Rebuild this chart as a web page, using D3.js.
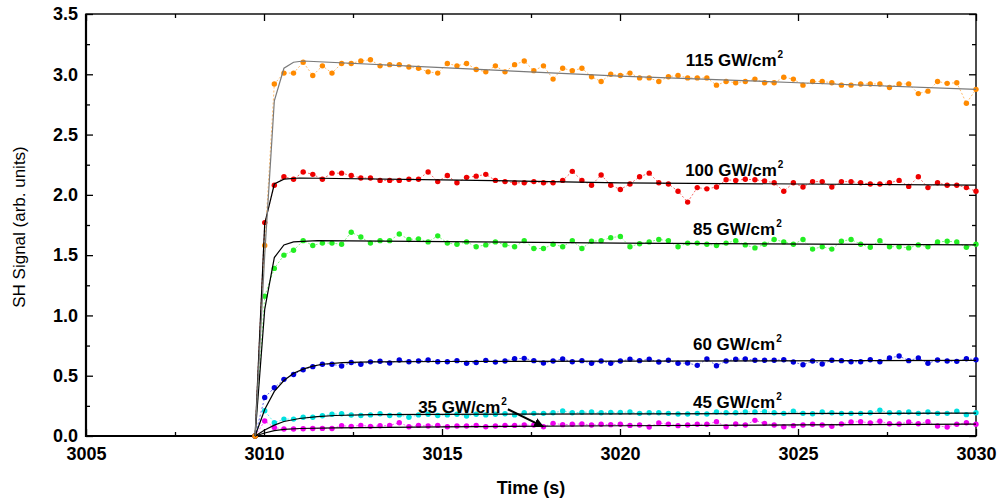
<!DOCTYPE html>
<html>
<head>
<meta charset="utf-8">
<script src="https://cdn.jsdelivr.net/npm/d3@7"></script>
<style>
  html, body { margin: 0; padding: 0; background: #fff; }
  svg { display: block; font-family: "Liberation Sans", Arial, sans-serif; }
</style>
</head>
<body>
<svg id="chart" width="999" height="500"></svg>
<script>
// Sampling times (s)
const times = [3009.75, 3010.02, 3010.29, 3010.56, 3010.83, 3011.10, 3011.37, 3011.64, 3011.91, 3012.18,
  3012.45, 3012.72, 3012.99, 3013.26, 3013.53, 3013.80, 3014.07, 3014.34, 3014.61, 3014.88,
  3015.15, 3015.42, 3015.69, 3015.96, 3016.23, 3016.50, 3016.77, 3017.04, 3017.31, 3017.58,
  3017.85, 3018.12, 3018.39, 3018.66, 3018.93, 3019.20, 3019.47, 3019.74, 3020.01, 3020.28,
  3020.55, 3020.82, 3021.09, 3021.36, 3021.63, 3021.90, 3022.17, 3022.44, 3022.71, 3022.98,
  3023.25, 3023.52, 3023.79, 3024.06, 3024.33, 3024.60, 3024.87, 3025.14, 3025.41, 3025.68,
  3025.95, 3026.22, 3026.49, 3026.76, 3027.03, 3027.30, 3027.57, 3027.84, 3028.11, 3028.38,
  3028.65, 3028.92, 3029.19, 3029.46, 3029.73, 3030.00];

// Measured SH signal for each intensity
const sig115 = [0, 1.58, 2.92, 3.01, 3.01, 3.10, 2.99, 3.07, 3.01, 3.09,
  3.09, 3.11, 3.12, 3.07, 3.08, 3.08, 3.06, 3.05, 3.02, 3.01,
  3.09, 3.07, 3.09, 3.04, 3.02, 3.07, 3.02, 3.08, 3.11, 3.03,
  3.07, 2.96, 3.05, 3.03, 3.05, 2.98, 2.94, 3.00, 2.99, 3.01,
  2.97, 2.97, 2.94, 2.98, 2.99, 2.97, 2.97, 2.97, 2.91, 2.94,
  2.93, 2.94, 2.96, 2.93, 2.93, 2.975, 2.96, 2.91, 2.94, 2.94,
  2.93, 2.91, 2.91, 2.92, 2.92, 2.92, 2.89, 2.92, 2.92, 2.84,
  2.86, 2.94, 2.925, 2.93, 2.76, 2.875];
const sig100 = [0, 1.77, 2.08, 2.15, 2.13, 2.19, 2.17, 2.13, 2.18, 2.18,
  2.16, 2.14, 2.14, 2.12, 2.12, 2.12, 2.13, 2.13, 2.19, 2.11,
  2.16, 2.10, 2.145, 2.155, 2.17, 2.12, 2.11, 2.10, 2.10, 2.11,
  2.10, 2.10, 2.12, 2.195, 2.12, 2.08, 2.165, 2.08, 2.045, 2.09,
  2.15, 2.18, 2.10, 2.09, 2.03, 1.94, 2.06, 2.05, 2.065, 2.125,
  2.12, 2.13, 2.125, 2.115, 2.10, 2.03, 2.10, 2.065, 2.11, 2.11,
  2.065, 2.11, 2.11, 2.10, 2.09, 2.09, 2.10, 2.12, 2.07, 2.15,
  2.06, 2.10, 2.08, 2.08, 2.06, 2.03];
const sig85 = [0, 1.16, 1.39, 1.50, 1.54, 1.62, 1.58, 1.60, 1.60, 1.59,
  1.69, 1.65, 1.60, 1.62, 1.62, 1.675, 1.63, 1.635, 1.61, 1.66,
  1.60, 1.59, 1.61, 1.57, 1.585, 1.61, 1.585, 1.57, 1.62, 1.555,
  1.555, 1.59, 1.57, 1.62, 1.555, 1.615, 1.62, 1.645, 1.655, 1.57,
  1.595, 1.61, 1.63, 1.62, 1.57, 1.60, 1.60, 1.59, 1.58, 1.60,
  1.62, 1.585, 1.56, 1.59, 1.63, 1.61, 1.59, 1.63, 1.55, 1.57,
  1.55, 1.615, 1.63, 1.59, 1.565, 1.62, 1.57, 1.57, 1.56, 1.585,
  1.57, 1.61, 1.615, 1.61, 1.565, 1.59];
const sig60 = [0, 0.32, 0.40, 0.47, 0.51, 0.55, 0.575, 0.595, 0.595, 0.58,
  0.61, 0.595, 0.615, 0.62, 0.605, 0.63, 0.616, 0.622, 0.63, 0.616,
  0.616, 0.625, 0.603, 0.61, 0.627, 0.613, 0.622, 0.641, 0.644, 0.625,
  0.605, 0.622, 0.639, 0.616, 0.625, 0.603, 0.622, 0.603, 0.622, 0.636,
  0.625, 0.636, 0.614, 0.628, 0.603, 0.605, 0.586, 0.639, 0.583, 0.622,
  0.636, 0.639, 0.628, 0.628, 0.628, 0.633, 0.614, 0.591, 0.622, 0.597,
  0.628, 0.625, 0.616, 0.616, 0.633, 0.616, 0.647, 0.663, 0.625, 0.647,
  0.603, 0.63, 0.622, 0.619, 0.641, 0.633];
const sig45 = [0, 0.21, 0.11, 0.14, 0.14, 0.155, 0.155, 0.168, 0.18, 0.185,
  0.174, 0.17, 0.175, 0.185, 0.17, 0.175, 0.155, 0.175, 0.18, 0.17,
  0.175, 0.18, 0.166, 0.18, 0.175, 0.18, 0.185, 0.175, 0.193, 0.188,
  0.188, 0.193, 0.207, 0.193, 0.196, 0.199, 0.193, 0.196, 0.196, 0.199,
  0.188, 0.193, 0.193, 0.188, 0.182, 0.182, 0.188, 0.182, 0.199, 0.193,
  0.193, 0.199, 0.199, 0.202, 0.193, 0.188, 0.205, 0.188, 0.185, 0.199,
  0.193, 0.188, 0.188, 0.188, 0.193, 0.213, 0.193, 0.193, 0.199, 0.188,
  0.199, 0.188, 0.188, 0.205, 0.177, 0.193];
const sig35 = [0, 0.125, 0.07, 0.058, 0.058, 0.06, 0.062, 0.063, 0.062, 0.085,
  0.08, 0.088, 0.08, 0.085, 0.088, 0.11, 0.077, 0.088, 0.083, 0.088,
  0.077, 0.083, 0.083, 0.088, 0.077, 0.083, 0.088, 0.088, 0.091, 0.091,
  0.077, 0.105, 0.094, 0.097, 0.10, 0.091, 0.097, 0.094, 0.097, 0.088,
  0.091, 0.075, 0.108, 0.097, 0.086, 0.091, 0.097, 0.097, 0.119, 0.077,
  0.10, 0.091, 0.13, 0.105, 0.091, 0.077, 0.086, 0.091, 0.097, 0.091,
  0.08, 0.10, 0.116, 0.119, 0.108, 0.122, 0.102, 0.10, 0.116, 0.102,
  0.119, 0.083, 0.075, 0.097, 0.11, 0.097];

// Fitted curves, [time, signal] vertices
const fit115 = [[3009.75, 0], [3010.02, 1.5], [3010.29, 2.78], [3010.56, 3.05], [3010.83, 3.10], [3011.10, 3.11],
  [3015, 3.055], [3020, 2.985], [3025, 2.93], [3030, 2.875]];
const fit100 = [[3009.75, 0], [3010.02, 1.76], [3010.29, 2.09], [3010.56, 2.13], [3011, 2.14],
  [3015, 2.125], [3020, 2.10], [3025, 2.09], [3030, 2.08]];
const fit85 = [[3009.75, 0], [3010.02, 1.05], [3010.29, 1.48], [3010.56, 1.585], [3010.83, 1.61], [3011.5, 1.62],
  [3020, 1.60], [3030, 1.585]];
const fit60 = [[3009.75, 0], [3010.02, 0.22], [3010.29, 0.37], [3010.56, 0.46], [3010.83, 0.52], [3011.10, 0.555],
  [3011.37, 0.58], [3011.64, 0.595], [3012.2, 0.608], [3013, 0.615], [3015, 0.618], [3030, 0.627]];
const fit45 = [[3009.75, 0], [3010.02, 0.05], [3010.29, 0.09], [3010.56, 0.12], [3011, 0.145], [3011.5, 0.16],
  [3012, 0.17], [3013, 0.177], [3015, 0.18], [3030, 0.19]];
const fit35 = [[3009.75, 0], [3010.02, 0.025], [3010.29, 0.045], [3010.56, 0.055], [3011, 0.062], [3012, 0.068],
  [3015, 0.076], [3020, 0.085], [3025, 0.092], [3030, 0.098]];

const intensities = ["35", "45", "60", "85", "100", "115"];
const xTicks = [3005, 3010, 3015, 3020, 3025, 3030];
const xMinorTicks = [3007.5, 3012.5, 3017.5, 3022.5, 3027.5];
const yTicks = [0, 0.5, 1.0, 1.5, 2.0, 2.5, 3.0, 3.5];
const yMinorTicks = [0.25, 0.75, 1.25, 1.75, 2.25, 2.75, 3.25];

// Series drawn bottom-up so the strongest signal sits on top
const series = [
  { name: intensities[0], values: sig35,  fit: fit35,  color: "#ee00ee", fitColor: "#000" },
  { name: intensities[1], values: sig45,  fit: fit45,  color: "#00e0e0", fitColor: "#000" },
  { name: intensities[2], values: sig60,  fit: fit60,  color: "#0000dd", fitColor: "#000" },
  { name: intensities[3], values: sig85,  fit: fit85,  color: "#22ee22", fitColor: "#000" },
  { name: intensities[4], values: sig100, fit: fit100, color: "#ee0000", fitColor: "#000" },
  { name: intensities[5], values: sig115, fit: fit115, color: "#ff8a00", fitColor: "#7a7a7a" }
];

// Label anchors in data coordinates (left edge, baseline)
const labelAnchors = {
  "115": [3021.85, 3.069],
  "100": [3021.83, 2.156],
  "85":  [3022.05, 1.667],
  "60":  [3022.05, 0.713],
  "45":  [3022.05, 0.232],
  "35":  [3014.33, 0.191]
};
const arrow35 = [[3016.85, 0.222], [3017.84, 0.078]];

const svg = d3.select("#chart");
const plotL = 86, plotR = 976, plotT = 14, plotB = 436;

const x = d3.scaleLinear().domain([3005, 3030]).range([plotL, plotR]);
const y = d3.scaleLinear().domain([0, 3.5]).range([plotB, plotT]);

// Axes with inward ticks
const tickFont = g => g.selectAll("text")
  .attr("font-family", "'Liberation Sans', Arial, sans-serif")
  .attr("font-size", 18).attr("font-weight", "bold").attr("fill", "#000");
const clean = g => { g.select(".domain").remove(); g.selectAll("line").attr("stroke", "#000").attr("stroke-width", 1.3); };

svg.append("g").attr("transform", `translate(0,${plotB})`)
  .call(d3.axisBottom(x).tickValues(xTicks).tickFormat(d3.format("d")).tickSizeInner(-7).tickSizeOuter(0).tickPadding(11))
  .call(clean).call(tickFont);
svg.append("g").attr("transform", `translate(0,${plotB})`)
  .call(d3.axisBottom(x).tickValues(xMinorTicks).tickFormat("").tickSizeInner(-4).tickSizeOuter(0))
  .call(clean);
svg.append("g").attr("transform", `translate(0,${plotT})`)
  .call(d3.axisTop(x).tickValues(xTicks).tickFormat("").tickSizeInner(-7).tickSizeOuter(0))
  .call(clean);
svg.append("g").attr("transform", `translate(0,${plotT})`)
  .call(d3.axisTop(x).tickValues(xMinorTicks).tickFormat("").tickSizeInner(-4).tickSizeOuter(0))
  .call(clean);

svg.append("g").attr("transform", `translate(${plotL},0)`)
  .call(d3.axisLeft(y).tickValues(yTicks).tickFormat(d3.format(".1f")).tickSizeInner(-7).tickSizeOuter(0).tickPadding(8))
  .call(clean).call(tickFont);
svg.append("g").attr("transform", `translate(${plotL},0)`)
  .call(d3.axisLeft(y).tickValues(yMinorTicks).tickFormat("").tickSizeInner(-4).tickSizeOuter(0))
  .call(clean);
svg.append("g").attr("transform", `translate(${plotR},0)`)
  .call(d3.axisRight(y).tickValues(yTicks).tickFormat("").tickSizeInner(-7).tickSizeOuter(0))
  .call(clean);
svg.append("g").attr("transform", `translate(${plotR},0)`)
  .call(d3.axisRight(y).tickValues(yMinorTicks).tickFormat("").tickSizeInner(-4).tickSizeOuter(0))
  .call(clean);

// Frame
svg.append("rect").attr("x", plotL).attr("y", plotT).attr("width", plotR - plotL).attr("height", plotB - plotT)
  .attr("fill", "none").attr("stroke", "#000").attr("stroke-width", 1.4);
svg.append("line").attr("x1", plotL).attr("x2", plotL).attr("y1", plotT).attr("y2", plotB + 1)
  .attr("stroke", "#000").attr("stroke-width", 2.2);
svg.append("line").attr("x1", plotL - 1).attr("x2", plotR).attr("y1", plotB).attr("y2", plotB)
  .attr("stroke", "#000").attr("stroke-width", 2.2);

// Axis titles
svg.append("text").attr("x", (plotL + plotR) / 2).attr("y", 494).attr("text-anchor", "middle")
  .attr("font-size", 18).attr("font-weight", "bold").text("Time (s)");
svg.append("text").attr("transform", `translate(25,${(plotT + plotB) / 2 + 2}) rotate(-90)`)
  .attr("text-anchor", "middle").attr("font-size", 17).text("SH Signal (arb. units)");

// Data: dotted connectors, markers, then fitted curves
const line = d3.line().x(d => x(d[0])).y(d => y(d[1]));
const plot = svg.append("g");

series.forEach(s => {
  const pts = times.map((t, i) => [t, s.values[i]]);
  plot.append("path").datum(pts).attr("d", line)
    .attr("fill", "none").attr("stroke", s.color).attr("stroke-width", 0.9)
    .attr("stroke-dasharray", "2,2").attr("stroke-opacity", 0.65);
  plot.append("g").selectAll("circle").data(pts).join("circle")
    .attr("cx", d => x(d[0])).attr("cy", d => y(d[1])).attr("r", 2.7)
    .attr("fill", s.color);
});

series.forEach(s => {
  plot.append("path").datum(s.fit).attr("d", line)
    .attr("fill", "none").attr("stroke", s.fitColor).attr("stroke-width", 1.2);
});

// Intensity labels
series.forEach(s => {
  const [lt, lv] = labelAnchors[s.name];
  const t = svg.append("text").attr("x", x(lt)).attr("y", y(lv))
    .attr("font-size", 17).attr("font-weight", "bold").attr("fill", "#000");
  t.append("tspan").text(`${s.name} GW/cm`);
  t.append("tspan").attr("font-size", 10).attr("dy", -8).attr("dx", 1).text("2");
});

// Arrow pointing at the 35 GW/cm² trace
svg.append("defs").append("marker").attr("id", "head")
  .attr("viewBox", "0 0 10 10").attr("refX", 9).attr("refY", 5)
  .attr("markerWidth", 5).attr("markerHeight", 5).attr("orient", "auto")
  .append("path").attr("d", "M0,0 L10,5 L0,10 z").attr("fill", "#000");
svg.append("line")
  .attr("x1", x(arrow35[0][0])).attr("y1", y(arrow35[0][1]))
  .attr("x2", x(arrow35[1][0])).attr("y2", y(arrow35[1][1]))
  .attr("stroke", "#000").attr("stroke-width", 2).attr("marker-end", "url(#head)");
</script>
</body>
</html>
